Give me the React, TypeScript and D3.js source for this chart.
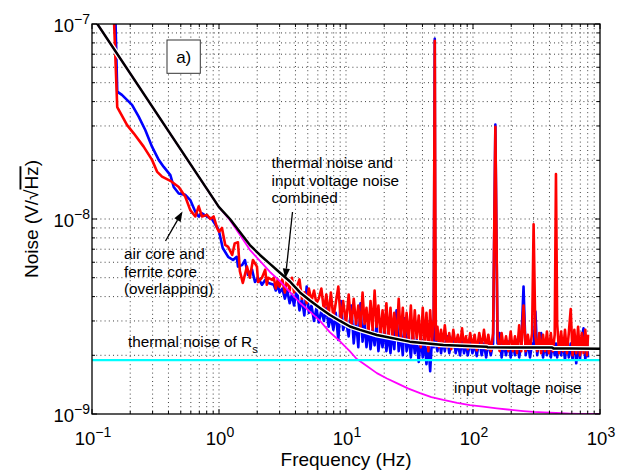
import React from "react";
import * as d3 from "d3";

const WIDTH = 629;
const HEIGHT = 474;
const PLOT = { left: 92, top: 24, right: 600, bottom: 414 };
const FONT = "'Liberation Sans', Arial, Helvetica, sans-serif";

// ---- axes ----
const xDomain: [number, number] = [0.1, 1000];
const yDomain: [number, number] = [1e-9, 1e-7];
const xMajorExp = ["−1", "0", "1", "2", "3"];
const yMajorExp = ["−9", "−8", "−7"];

// ---- data (frequency in Hz, noise in nV/√Hz) ----
const redLowFreq = [0.146, 0.158, 0.189, 0.213, 0.255, 0.297, 0.325, 0.356, 0.414, 0.482, 0.543, 0.594, 0.651, 0.692, 0.735, 0.804, 0.854, 0.908, 0.965, 1.0, 1.055, 1.12, 1.18, 1.27, 1.33, 1.41, 1.46, 1.54, 1.66, 1.75, 1.85, 1.99, 2.03, 2.18, 2.31, 2.38, 2.43, 2.62];
const redLow = [150, 37.5, 30.3, 27.5, 23.5, 20.1, 17.5, 16.5, 15.7, 14.6, 13.0, 11.1, 10.3, 11.6, 10.3, 10.5, 10.0, 10.3, 9.0, 8.6, 9.0, 7.36, 7.2, 6.54, 7.5, 7.6, 5.4, 4.7, 5.7, 5.0, 6.16, 5.7, 4.75, 5.0, 5.5, 4.6, 5.0, 4.87];

const blueLowFreq = [0.151, 0.158, 0.172, 0.2066, 0.2331, 0.2627, 0.2968, 0.3352, 0.3672, 0.414, 0.44, 0.482, 0.543, 0.594, 0.651, 0.692, 0.735, 0.804, 0.88, 0.995, 1.07, 1.18, 1.29, 1.38, 1.41, 1.52, 1.6, 1.69, 1.82, 1.92, 2.03, 2.18, 2.31, 2.45];
const blueLow = [150, 45, 43.3, 38.5, 33.5, 28.6, 23.5, 20.1, 18.5, 16.8, 14.6, 13.5, 13.3, 12.5, 10.9, 10.3, 10.7, 10.3, 10.0, 8.78, 7.1, 6.4, 6.16, 6.4, 5.7, 5.8, 6.16, 5.16, 5.5, 4.75, 5.0, 4.6, 4.87, 4.7];

const gridFreq = [
  2.7, 2.8, 2.9, 3.0, 3.15, 3.3, 3.45, 3.6, 3.75, 3.9, 4.1, 4.3, 4.5, 4.7, 4.9, 5.1, 5.35, 5.6, 5.85, 6.1,
  6.4, 6.7, 7.0, 7.3, 7.6, 7.95, 8.3, 8.7, 9.1, 9.5, 10.0,
  10.5, 11, 11.5, 12, 12.5, 13, 13.5, 14, 14.5, 15,
  15.6, 16.2, 16.8, 17.4, 18, 18.7, 19.4, 20.1, 20.8, 21.6,
  22.4, 23.2, 24, 25, 26, 27, 28, 29, 30, 31.2,
  32.4, 33.6, 34.8, 36, 37.4, 38.8, 40.2, 41.6, 43, 44.5,
  46, 47.5, 49, 50, 50.4, 51, 52.5, 54, 56, 58,
  60, 62.5, 65, 67.5, 70, 73, 76, 79, 82, 85,
  88, 91, 95, 99, 103, 107, 112, 117, 122, 127,
  132, 138, 144, 150, 156, 162, 168, 175, 182, 190,
  198, 206, 214, 222, 231, 240, 250, 260, 270, 281,
  292, 300, 310, 320, 332, 344, 356, 369, 382, 396,
  410, 425, 440, 450, 460, 477, 494, 512, 530, 549,
  568, 588, 608, 628, 650, 672, 695, 718, 742, 766,
  790, 805,
];
const redGrid = [
  5.0, 4.4, 4.9, 4.5, 4.9, 4.2, 5.0, 4.3, 5.0, 4.2, 4.5, 4.9, 3.9, 4.2, 3.7, 4.4, 3.8, 4.3, 3.7, 3.9,
  4.4, 3.4, 4.1, 3.2, 4.2, 3.1, 3.7, 4.5, 3.0, 3.8, 2.9,
  4.1, 2.8, 3.9, 2.9, 3.6, 2.7, 4.2, 2.9, 3.5, 2.6,
  3.8, 2.7, 4.3, 2.8, 3.6, 2.5, 3.4, 2.6, 3.7, 2.45,
  3.5, 2.5, 3.3, 2.4, 3.9, 2.45, 3.5, 2.35, 3.3, 2.4,
  3.6, 2.3, 3.4, 2.45, 3.2, 2.2, 3.5, 2.3, 3.3, 2.1,
  3.4, 2.3, 3.1, 82, 15.8, 2.4, 2.8, 2.2, 2.7, 2.25,
  2.85, 2.2, 2.6, 2.15, 2.7, 2.25, 2.55, 2.2, 2.75, 2.2,
  2.5, 2.15, 2.6, 2.2, 2.55, 2.12, 2.6, 2.2, 2.7, 2.15,
  2.55, 2.1, 2.6, 29.7, 2.5, 2.1, 2.6, 2.15, 2.5, 2.1,
  2.65, 2.1, 2.5, 2.05, 2.85, 2.1, 3.6, 2.1, 2.55, 2.15,
  2.6, 9.4, 2.5, 2.1, 2.6, 2.05, 2.55, 2.1, 2.65, 2.05,
  2.6, 2.1, 2.55, 17.0, 2.9, 2.05, 2.65, 2.1, 2.7, 2.05,
  2.6, 3.45, 2.0, 2.7, 2.05, 2.8, 2.0, 2.6, 2.05, 2.7,
  2.0, 2.55,
];
const blueGrid = [
  4.6, 4.3, 4.6, 4.2, 4.4, 3.9, 4.3, 3.7, 4.1, 3.6, 4.4, 3.4, 3.9, 3.2, 4.5, 3.3, 3.6, 3.0, 3.5, 2.95,
  3.4, 3.0, 3.5, 2.8, 3.2, 2.7, 3.3, 2.4, 3.8, 2.7, 3.0,
  2.5, 3.6, 2.3, 3.0, 2.2, 3.7, 2.35, 2.9, 2.2, 2.8,
  2.15, 2.7, 2.25, 2.9, 2.1, 2.6, 2.2, 2.8, 2.1, 2.55,
  2.05, 2.7, 2.15, 3.4, 2.1, 2.6, 2.0, 3.1, 2.1, 2.5,
  1.95, 2.6, 2.05, 2.4, 1.85, 2.5, 1.95, 2.4, 1.8, 2.3,
  1.66, 2.4, 2.2, 84, 3.0, 2.3, 2.1, 2.5, 2.05, 2.4,
  2.1, 2.5, 2.05, 2.3, 2.55, 2.05, 2.3, 2.0, 2.4, 2.05,
  2.3, 2.0, 2.35, 2.05, 2.3, 1.98, 2.4, 2.0, 2.3, 1.95,
  2.35, 2.0, 2.3, 30.5, 2.3, 2.6, 1.95, 2.3, 2.0, 2.35,
  1.95, 2.3, 2.0, 2.4, 1.95, 2.3, 4.5, 2.0, 2.35, 1.95,
  2.3, 2.2, 3.35, 2.0, 2.4, 2.6, 1.95, 2.3, 2.0, 2.4,
  1.95, 2.3, 2.0, 2.3, 1.95, 2.35, 2.0, 2.3, 1.9, 2.4,
  1.95, 2.3, 1.9, 2.5, 1.82, 2.3, 1.9, 2.45, 2.75, 1.9,
  2.4, 1.95,
];

const inputFreq = [0.1, 1.0, 1.22, 1.46, 1.75, 2.1, 2.52, 3.02, 3.62, 4.34, 5.2, 6.24, 7.48, 8.97, 10.7, 12.1, 14.5, 17.5, 21, 25.1, 31, 38.3, 47, 58.4, 75, 94.7, 120, 154, 200, 249, 300, 358, 450, 580, 700, 1000];
const inputNoise = [110, 11.5, 9.85, 8.3, 6.95, 6.1, 5.35, 4.8, 4.22, 3.72, 3.35, 3.0, 2.62, 2.36, 2.1, 1.92, 1.77, 1.62, 1.52, 1.44, 1.35, 1.28, 1.22, 1.18, 1.14, 1.11, 1.09, 1.07, 1.05, 1.035, 1.025, 1.02, 1.012, 1.005, 1.0, 1.0];

const combinedFreq = [0.1, 1.0, 1.22, 1.46, 1.75, 2.1, 2.52, 3.02, 3.62, 4.34, 5.2, 6.24, 7.48, 8.97, 10.75, 12.9, 17.5, 31.8, 58.4, 128, 130, 200, 300, 420, 430, 600, 1000];
const combinedNoise = [110, 11.5, 10.0, 8.57, 7.35, 6.54, 5.89, 5.3, 4.78, 4.2, 3.82, 3.5, 3.22, 3.0, 2.81, 2.7, 2.54, 2.35, 2.26, 2.215, 2.2, 2.195, 2.19, 2.19, 2.17, 2.165, 2.16];

const thermalFreq = [0.1, 1000];
const thermalNoise = [1.89, 1.89];

type P = [number, number];
const zip = (fs: number[], vs: number[]): P[] => fs.map((f, i) => [f, vs[i]] as P);

function Arrow({ x1, y1, x2, y2 }: { x1: number; y1: number; x2: number; y2: number }) {
  const dx = x2 - x1, dy = y2 - y1;
  const len = Math.hypot(dx, dy);
  const ux = dx / len, uy = dy / len;
  const hl = 10, hw = 3.6;
  const bx = x2 - ux * hl, by = y2 - uy * hl;
  const pts = `${x2},${y2} ${bx - uy * hw},${by + ux * hw} ${bx + uy * hw},${by - ux * hw}`;
  return (
    <g>
      <line x1={x1} y1={y1} x2={bx} y2={by} stroke="#000" strokeWidth={1.3} />
      <polygon points={pts} fill="#000" />
    </g>
  );
}

export default function App() {
  const x = d3.scaleLog().domain(xDomain).range([PLOT.left, PLOT.right]);
  const y = d3.scaleLog().domain(yDomain).range([PLOT.bottom, PLOT.top]);
  const nV = 1e-9;
  const line = d3
    .line<P>()
    .x((d) => x(d[0]))
    .y((d) => y(d[1] * nV));

  const red = [...zip(redLowFreq, redLow), ...zip(gridFreq, redGrid)];
  const blue = [...zip(blueLowFreq, blueLow), ...zip(gridFreq, blueGrid)];
  const input = zip(inputFreq, inputNoise);
  const combined = zip(combinedFreq, combinedNoise);
  const thermal = zip(thermalFreq, thermalNoise);

  const isMajor = (t: number) => Math.abs(Math.log10(t) - Math.round(Math.log10(t))) < 1e-6;
  const xt = x.ticks();
  const yt = y.ticks();
  const xMajor = xt.filter(isMajor);
  const yMajor = yt.filter(isMajor);

  const W = PLOT.right - PLOT.left;
  const H = PLOT.bottom - PLOT.top;

  return (
    <svg
      width={WIDTH}
      height={HEIGHT}
      viewBox={`0 0 ${WIDTH} ${HEIGHT}`}
      style={{ position: "absolute", left: 0, top: 0, background: "#fff" }}
      fontFamily={FONT}
    >
      <rect x={0} y={0} width={WIDTH} height={HEIGHT} fill="#fff" />
      <defs>
        <clipPath id="plotclip">
          <rect x={PLOT.left} y={PLOT.top} width={W} height={H} />
        </clipPath>
      </defs>

      {/* grid */}
      <g stroke="#2a2a2a" strokeWidth={0.9} strokeDasharray="1 3.2">
        {xt
          .filter((t) => t > xDomain[0] * 1.0001 && t < xDomain[1] * 0.9999)
          .map((t, i) => (
            <line key={"gx" + i} x1={x(t)} x2={x(t)} y1={PLOT.top} y2={PLOT.bottom} />
          ))}
        {yt
          .filter((t) => t > yDomain[0] * 1.0001 && t < yDomain[1] * 0.9999)
          .map((t, i) => (
            <line key={"gy" + i} x1={PLOT.left} x2={PLOT.right} y1={y(t)} y2={y(t)} />
          ))}
      </g>

      {/* data */}
      <g clipPath="url(#plotclip)" fill="none" strokeLinejoin="round">
        <path d={line(blue) || ""} stroke="#0000ff" strokeWidth={2.6} />
        <path d={line(red) || ""} stroke="#ff0000" strokeWidth={2.6} />
        <path d={line(combined) || ""} stroke="#ffffff" strokeWidth={5} />
        <path d={line(input) || ""} stroke="#ff00ff" strokeWidth={1.8} />
        <path d={line(thermal) || ""} stroke="#00ffff" strokeWidth={2.4} />
        <path d={line(combined) || ""} stroke="#000000" strokeWidth={2.5} />
      </g>

      {/* ticks */}
      <g stroke="#000" strokeWidth={1}>
        {xt.map((t, i) => {
          const L = isMajor(t) ? 5 : 3;
          const px = x(t);
          return (
            <g key={"tx" + i}>
              <line x1={px} x2={px} y1={PLOT.bottom} y2={PLOT.bottom - L} />
              <line x1={px} x2={px} y1={PLOT.top} y2={PLOT.top + L} />
            </g>
          );
        })}
        {yt.map((t, i) => {
          const L = isMajor(t) ? 5 : 3;
          const py = y(t);
          return (
            <g key={"ty" + i}>
              <line x1={PLOT.left} x2={PLOT.left + L} y1={py} y2={py} />
              <line x1={PLOT.right} x2={PLOT.right - L} y1={py} y2={py} />
            </g>
          );
        })}
      </g>
      <rect x={PLOT.left} y={PLOT.top} width={W} height={H} fill="none" stroke="#000" strokeWidth={1.3} />

      {/* tick labels */}
      <g fontSize={18.5} fill="#000">
        {xMajor.map((t, i) => (
          <text key={"lx" + i} x={x(t) + 1} y={PLOT.bottom + 31} textAnchor="middle">
            <tspan>10</tspan>
            <tspan fontSize={14} dy={-8}>
              {xMajorExp[i]}
            </tspan>
          </text>
        ))}
        {yMajor.map((t, i) => (
          <text key={"ly" + i} x={PLOT.left - 2} y={y(t) + 8} textAnchor="end">
            <tspan>10</tspan>
            <tspan fontSize={14} dy={-8}>
              {yMajorExp[i]}
            </tspan>
          </text>
        ))}
      </g>

      {/* axis titles */}
      <text x={(PLOT.left + PLOT.right) / 2} y={466} fontSize={19} textAnchor="middle">
        Frequency (Hz)
      </text>
      <text transform={`translate(37.5, ${(PLOT.top + PLOT.bottom) / 2}) rotate(-90)`} fontSize={19} textAnchor="middle">
        Noise (V/√<tspan style={{ textDecoration: "overline" }}>Hz</tspan>)
      </text>

      {/* panel label */}
      <rect x={167} y={40} width={33.3} height={33.3} fill="#fff" stroke="#333" strokeWidth={1} />
      <text x={183.7} y={63} fontSize={17} textAnchor="middle">
        a)
      </text>

      {/* annotations */}
      <g fontSize={15.3} fill="#000">
        <text x={271.5} y={168}>thermal noise and</text>
        <text x={271.5} y={185.5}>input voltage noise</text>
        <text x={271.5} y={203}>combined</text>
        <text x={124} y={259}>air core and</text>
        <text x={124} y={276.5}>ferrite core</text>
        <text x={124} y={293.5}>(overlapping)</text>
        <text x={128} y={347}>
          thermal noise of R<tspan fontSize={11} dy={6}>s</tspan>
        </text>
        <text x={454} y={393.3}>input voltage noise</text>
      </g>
      <Arrow x1={165.5} y1={241} x2={182.5} y2={211.5} />
      <Arrow x1={292.5} y1={212} x2={285.3} y2={278.5} />
    </svg>
  );
}
